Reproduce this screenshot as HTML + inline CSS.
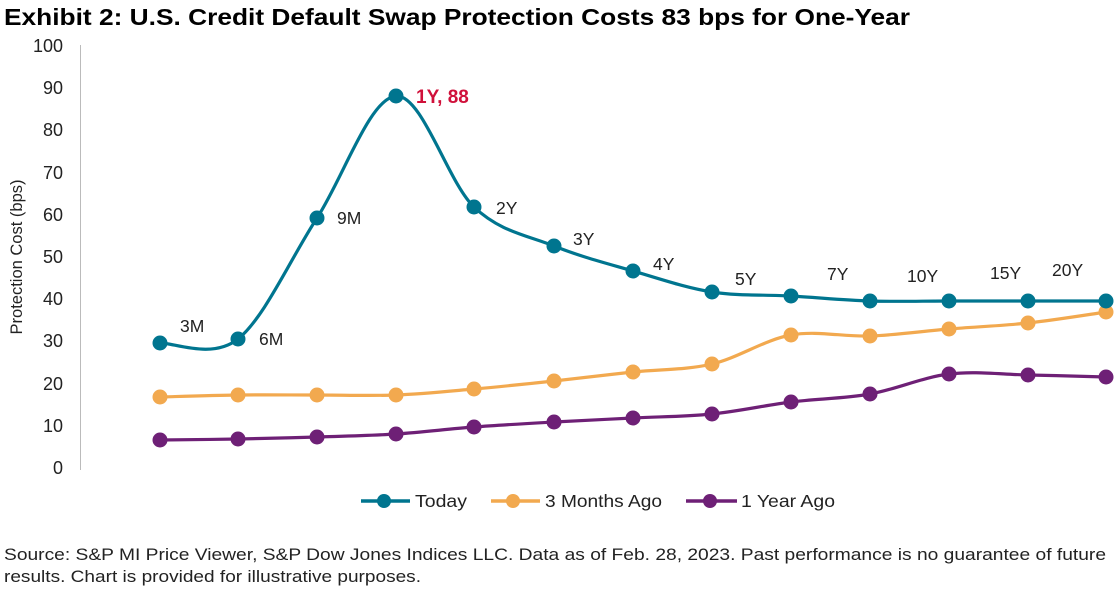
<!DOCTYPE html>
<html><head><meta charset="utf-8"><style>
body{margin:0;background:#fff;width:1117px;height:588px;overflow:hidden;font-family:"Liberation Sans",Arial,sans-serif}
</style></head><body>
<svg width="1117" height="588" xmlns="http://www.w3.org/2000/svg" font-family="Liberation Sans, Arial, sans-serif">
<text x="4" y="25" font-size="23" font-weight="bold" fill="#000" textLength="906" lengthAdjust="spacingAndGlyphs">Exhibit 2: U.S. Credit Default Swap Protection Costs 83 bps for One-Year</text>
<line x1="80.5" y1="45" x2="80.5" y2="470" stroke="#bbb" stroke-width="1"/>
<g font-size="18" fill="#222" text-anchor="end">
<text x="63" y="52">100</text><text x="63" y="94">90</text><text x="63" y="136">80</text><text x="63" y="179">70</text><text x="63" y="221">60</text><text x="63" y="263">50</text><text x="63" y="305">40</text><text x="63" y="347">30</text><text x="63" y="390">20</text><text x="63" y="432">10</text><text x="63" y="474">0</text>
</g>
<text transform="translate(22,257) rotate(-90)" font-size="16.5" text-anchor="middle" fill="#222">Protection Cost (bps)</text>
<g id="series"></g>
<g font-size="17.5" fill="#222">
<text x="180" y="332">3M</text><text x="259" y="345">6M</text><text x="337" y="224">9M</text>
<text x="496" y="214">2Y</text><text x="573" y="245">3Y</text><text x="653" y="270">4Y</text><text x="735" y="285">5Y</text>
<text x="827" y="280">7Y</text><text x="907" y="282">10Y</text><text x="990" y="279">15Y</text><text x="1052" y="276">20Y</text>
</g>
<text x="416" y="103" font-size="19" font-weight="bold" fill="#d0103a">1Y, 88</text>
<g font-size="17.5" fill="#222">
<line x1="361" y1="501" x2="410" y2="501" stroke="#00758f" stroke-width="3.5"/><circle cx="384" cy="501" r="7" fill="#00758f"/><text x="415" y="507" textLength="52" lengthAdjust="spacingAndGlyphs">Today</text>
<line x1="491" y1="501" x2="540" y2="501" stroke="#f2a94f" stroke-width="3.5"/><circle cx="513" cy="501" r="7" fill="#f2a94f"/><text x="545" y="507" textLength="117" lengthAdjust="spacingAndGlyphs">3 Months Ago</text>
<line x1="686" y1="501" x2="737" y2="501" stroke="#6e2076" stroke-width="3.5"/><circle cx="710" cy="501" r="7" fill="#6e2076"/><text x="741" y="507" textLength="94" lengthAdjust="spacingAndGlyphs">1 Year Ago</text>
</g>
<g font-size="17" fill="#222">
<text x="4" y="560" textLength="1102" lengthAdjust="spacingAndGlyphs">Source: S&amp;P MI Price Viewer, S&amp;P Dow Jones Indices LLC. Data as of Feb. 28, 2023. Past performance is no guarantee of future</text>
<text x="4" y="582" textLength="417" lengthAdjust="spacingAndGlyphs">results. Chart is provided for illustrative purposes.</text>
</g>
</svg>
<script>
var xs=[160,238,317,396,474,554,633,712,791,870,949,1028,1106];
var S=[["#6e2076",[440,439,437,434,427,422,418,414,402,394,374,375,377]],
["#f2a94f",[397,395,395,395,389,381,372,364,335,336,329,323,312]],
["#00758f",[343,339,218,96,207,246,271,292,296,301,301,301,301]]];
var g=document.getElementById('series'),h="";
S.forEach(function(s){var p=xs.map(function(x,i){return[x,s[1][i]]});
var d="M"+p[0][0]+","+p[0][1];
for(var i=0;i<p.length-1;i++){var a=p[i-1]||p[i],b=p[i],c=p[i+1],e=p[i+2]||c;
var k=1/6;d+=" C"+(b[0]+(c[0]-a[0])*k)+","+(b[1]+(c[1]-a[1])*k)+" "+(c[0]-(e[0]-b[0])*k)+","+(c[1]-(e[1]-b[1])*k)+" "+c[0]+","+c[1];}
h+='<path d="'+d+'" fill="none" stroke="'+s[0]+'" stroke-width="3.2"/>';
p.forEach(function(q){h+='<circle cx="'+q[0]+'" cy="'+q[1]+'" r="7.5" fill="'+s[0]+'"/>'});});
g.innerHTML=h;
</script>
</body></html>
